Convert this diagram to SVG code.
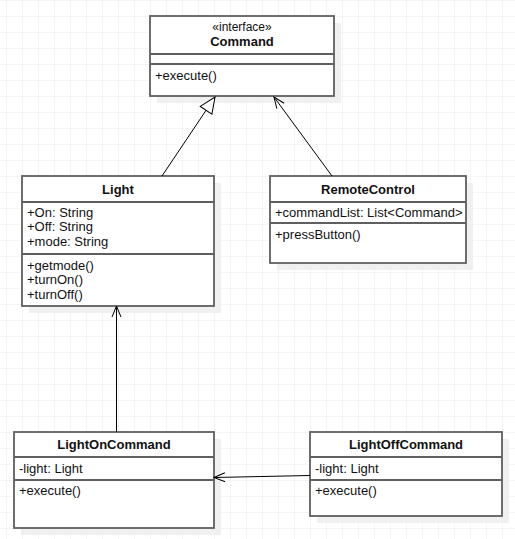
<svg xmlns="http://www.w3.org/2000/svg" width="515" height="539" viewBox="0 0 515 539">
<defs>
<pattern id="grid" x="6" y="0" width="16" height="16" patternUnits="userSpaceOnUse">
<path d="M0 0V16M0 0H16" fill="none" stroke="#ebebeb" stroke-width="1"/>
</pattern>
<marker id="open" markerWidth="14" markerHeight="14" refX="12" refY="7" orient="auto" markerUnits="userSpaceOnUse">
<path d="M1 2.5L12 7L1 11.5" fill="none" stroke="#000" stroke-width="1"/>
</marker>
<marker id="tri" markerWidth="20" markerHeight="20" refX="17" refY="10" orient="auto" markerUnits="userSpaceOnUse">
<path d="M1 3L17 10L1 17Z" fill="#fff" stroke="#000" stroke-width="1"/>
</marker>
</defs>
<style>
.sh{fill:#f0f0f0}
.box{fill:#fff;stroke:#5f5f5f;stroke-width:1.8}
.sep{stroke:#5f5f5f;stroke-width:1.8}
text{font-family:"Liberation Sans",Arial,sans-serif;font-size:13px;fill:#111}
.t{font-weight:bold;text-anchor:middle}
.st{font-size:12px;text-anchor:middle}
.c{fill:none;stroke:#000;stroke-width:1}
</style>
<rect width="515" height="539" fill="#fff"/>
<rect x="0" y="0" width="515" height="539" fill="url(#grid)"/>

<g id="Command">
<rect class="sh" x="157" y="23" width="184" height="80"/>
<rect class="box" x="150" y="16" width="184" height="80"/>
<line class="sep" x1="150" y1="54" x2="334" y2="54"/>
<line class="sep" x1="150" y1="64" x2="334" y2="64"/>
<text class="st" x="242" y="31">«interface»</text>
<text class="t" x="242" y="46">Command</text>
<text x="155" y="80">+execute()</text>
</g>

<g id="Light">
<rect class="sh" x="29" y="183" width="192" height="130"/>
<rect class="box" x="22" y="176" width="192" height="130"/>
<line class="sep" x1="22" y1="202" x2="214" y2="202"/>
<line class="sep" x1="22" y1="254" x2="214" y2="254"/>
<text class="t" x="118" y="194">Light</text>
<text x="27" y="216.5">+On: String</text>
<text x="27" y="231">+Off: String</text>
<text x="27" y="245.5">+mode: String</text>
<text x="27" y="269.5">+getmode()</text>
<text x="27" y="284">+turnOn()</text>
<text x="27" y="298.5">+turnOff()</text>
</g>

<g id="RemoteControl">
<rect class="sh" x="277" y="183" width="196" height="87"/>
<rect class="box" x="270" y="176" width="196" height="87"/>
<line class="sep" x1="270" y1="202" x2="466" y2="202"/>
<line class="sep" x1="270" y1="223" x2="466" y2="223"/>
<text class="t" x="368" y="194">RemoteControl</text>
<text x="275" y="216.5">+commandList: List&lt;Command&gt;</text>
<text x="275" y="238.5">+pressButton()</text>
</g>

<g id="LightOnCommand">
<rect class="sh" x="21" y="439" width="200" height="96"/>
<rect class="box" x="14" y="432" width="200" height="96"/>
<line class="sep" x1="14" y1="457" x2="214" y2="457"/>
<line class="sep" x1="14" y1="480" x2="214" y2="480"/>
<text class="t" x="114" y="449">LightOnCommand</text>
<text x="19" y="472.5">-light: Light</text>
<text x="19" y="494.5">+execute()</text>
</g>

<g id="LightOffCommand">
<rect class="sh" x="317" y="439" width="192" height="84"/>
<rect class="box" x="310" y="432" width="192" height="84"/>
<line class="sep" x1="310" y1="457" x2="502" y2="457"/>
<line class="sep" x1="310" y1="480" x2="502" y2="480"/>
<text class="t" x="406" y="449">LightOffCommand</text>
<text x="315" y="472.5">-light: Light</text>
<text x="315" y="494.5">+execute()</text>
</g>

<g id="connectors">
<line class="c" x1="162" y1="176" x2="215" y2="97" marker-end="url(#tri)"/>
<line class="c" x1="332" y1="176" x2="274" y2="97" marker-end="url(#open)"/>
<line class="c" x1="116.5" y1="432" x2="116.5" y2="306" marker-end="url(#open)"/>
<line class="c" x1="310" y1="475.5" x2="214" y2="477.5" marker-end="url(#open)"/>
</g>
</svg>
